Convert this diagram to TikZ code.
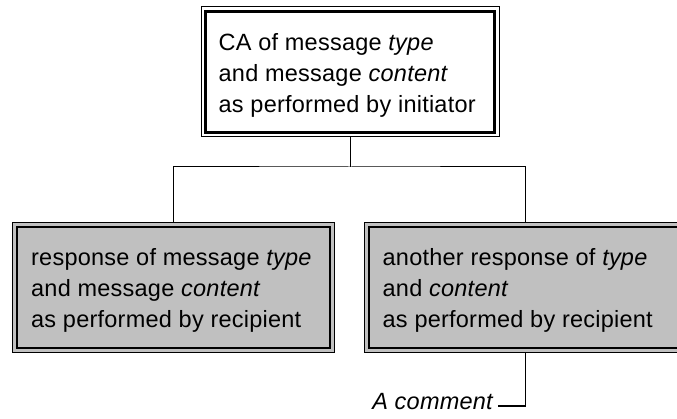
\documentclass[tikz,border=0pt]{standalone}
\usepackage{fontspec}
\setmainfont{Liberation Sans}[LetterSpace=1.0]
\definecolor{boxgray}{RGB}{192,192,192}
\begin{document}
\begin{tikzpicture}[x=1pt,y=-1pt,
  boxbase/.style={draw=black, line width=1pt, inner sep=0pt, minimum height=130pt},
  topbox/.style={boxbase, fill=white, minimum width=298pt},
  subbox/.style={boxbase, fill=boxgray, minimum width=322pt},
  boxtext/.style={anchor=west, inner sep=0pt, align=left,
    font=\fontsize{23.5}{31}\selectfont},
  innerframe/.style={draw=black, line width=2.6pt},
  conn/.style={draw=black, line width=1pt},
  commentline/.style={draw=black, line width=1.4pt}]
\useasboundingbox (0,0) rectangle (677,419);

\node[topbox] (top) at (350,72) {};
\node[subbox] (left) at (173.5,287.5) {};
\node[subbox] (right) at (525.5,287.5) {};

\foreach \n in {top,left,right}{
  \draw[innerframe] ([xshift=5pt,yshift=-5pt]\n.north west) rectangle ([xshift=-5pt,yshift=5pt]\n.south east);
}

\node[boxtext] (toptext) at ([xshift=18pt,yshift=-3pt]top.west) {CA of message \textit{type}\\and message \textit{content}\\as performed by initiator};
\node[boxtext] (lefttext) at ([xshift=19pt,yshift=-3pt]left.west) {response of message \textit{type}\\and message \textit{content}\\as performed by recipient};
\node[boxtext] (righttext) at ([xshift=18.5pt,yshift=-3pt]right.west) {another response of \textit{type}\\and \textit{content}\\as performed by recipient};

\coordinate (junction) at (350,167);
\draw[conn] (top.south) -- (junction);
\draw[conn] (left.north) |- (junction) -| (right.north);

\node[anchor=east, inner sep=0pt, font=\fontsize{23.5}{28}\selectfont\itshape] (comment) at (493,402) {A comment};
\coordinate (commentend) at (498,406);
\draw[commentline] (right.south) |- (commentend);
\end{tikzpicture}
\end{document}
